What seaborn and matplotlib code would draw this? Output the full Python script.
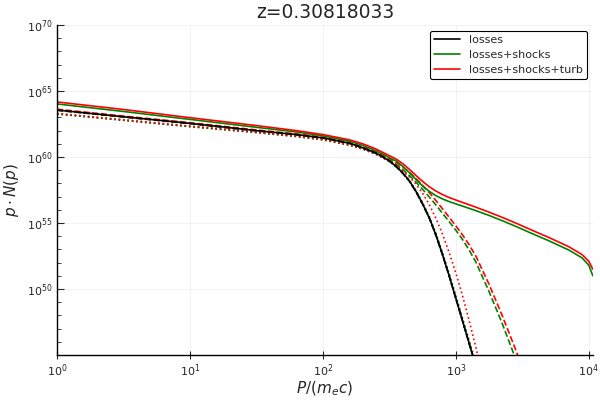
import numpy as np
import pandas as pd
import matplotlib
matplotlib.use("Agg")
import matplotlib.pyplot as plt
import matplotlib.ticker as mticker
import seaborn as sns

# log10(P/(m_e c)) grid
logp = [0, 0.5, 1.0, 1.5, 1.8, 2.0, 2.2, 2.3, 2.4, 2.45, 2.5, 2.55, 2.6, 2.65, 2.7, 2.75, 2.8,
        2.85, 2.9, 2.95, 3.0, 3.05, 3.1, 3.15, 3.25, 3.35, 3.45, 3.55, 3.7, 3.85, 3.95, 4.0, 4.03]

# log10(p*N(p)) (curves stop once they leave the axes)
red_solid = [64.17, 63.6, 62.98, 62.38, 62.0, 61.7, 61.3, 61.0, 60.6, 60.35, 60.1, 59.85, 59.5,
             59.07, 58.6, 58.15, 57.75, 57.42, 57.15, 56.93, 56.74, 56.56, 56.38, 56.2, 55.82,
             55.42, 55.0, 54.55, 53.9, 53.2, 52.6, 52.1, 51.5]
green_solid = [64.02, 63.45, 62.85, 62.25, 61.9, 61.6, 61.2, 60.88, 60.47, 60.22, 59.95, 59.7, 59.3,
               58.82, 58.3, 57.8, 57.4, 57.07, 56.82, 56.62, 56.45, 56.28, 56.11, 55.94, 55.57,
               55.17, 54.75, 54.3, 53.65, 52.95, 52.35, 51.8, 51.0]
black_solid = [63.56, 63.05, 62.55, 62.0, 61.7, 61.45, 61.05, 60.7, 60.3, 60.02, 59.7, 59.3, 58.8,
               58.2, 57.4, 56.45, 55.4, 54.1, 52.6, 51.0, 49.3, 47.6, 45.9, 44.2, 40.8]
black_dashed = [63.54, 63.03, 62.53, 61.98, 61.68, 61.43, 61.03, 60.68, 60.28, 60.0, 59.68, 59.28, 58.78,
                58.18, 57.38, 56.43, 55.38, 54.08, 52.58, 50.98, 49.28, 47.58, 45.88, 44.18, 40.8]
green_dashed = [63.56, 63.05, 62.55, 62.0, 61.7, 61.45, 61.05, 60.7, 60.3, 60.05, 59.8, 59.45, 59.05,
                58.6, 58.1, 57.55, 56.97, 56.37, 55.73, 55.1, 54.45, 53.75, 52.95, 52.05, 49.8,
                47.35, 44.7, 42.0]
red_dashed = [63.62, 63.1, 62.6, 62.05, 61.75, 61.5, 61.1, 60.75, 60.37, 60.15, 59.9, 59.6, 59.25,
              58.85, 58.37, 57.85, 57.3, 56.7, 56.07, 55.43, 54.78, 54.1, 53.35, 52.5, 50.35,
              47.95, 45.4, 42.7]
black_dotted = [63.26, 62.78, 62.3, 61.85, 61.55, 61.3, 60.9, 60.6, 60.2, 59.95, 59.66, 59.27, 58.77,
                58.17, 57.37, 56.42, 55.37, 54.07, 52.57, 50.97, 49.27, 47.57, 45.87, 44.17, 40.8]
green_dotted = [63.28, 62.8, 62.32, 61.87, 61.57, 61.32, 60.92, 60.62, 60.22, 59.97, 59.69, 59.31, 58.83,
                58.24, 57.46, 56.53, 55.5, 54.22, 52.74, 51.16, 49.48, 47.8, 46.1, 44.4, 41.0]
red_dotted = [63.3, 62.82, 62.34, 61.89, 61.59, 61.34, 60.94, 60.64, 60.24, 59.98, 59.72, 59.37, 58.97,
              58.5, 57.95, 57.25, 56.4, 55.35, 54.15, 52.75, 51.2, 49.5, 47.6, 45.6, 41.4]

title = "z=0.30818033"
legend_labels = ["losses", "losses+shocks", "losses+shocks+turb"]

sns.set_style("ticks")
plt.rcParams['font.family'] = ['DejaVu Sans']

fig, ax = plt.subplots(figsize=(6, 4), dpi=100)
fig.subplots_adjust(left=0.095, right=0.988, bottom=0.1125, top=0.9375)
ax.set_xscale('log')
ax.set_yscale('log')


def draw(vals, color, ls, label=None):
    n = len(vals)
    x = 10 ** np.array(logp[:n])
    y = 10 ** np.array(vals)
    sns.lineplot(x=x, y=y, color=color, linestyle=ls, lw=1.2, label=label,
                 ax=ax, sort=False, estimator=None)


# background runs first, solid ones on top
draw(black_dashed, 'black', '--')
draw(green_dashed, 'green', '--')
draw(red_dashed, 'red', '--')
draw(black_dotted, 'black', ':')
draw(green_dotted, 'green', ':')
draw(red_dotted, 'red', ':')
draw(black_solid, 'black', '-', legend_labels[0])
draw(green_solid, 'green', '-', legend_labels[1])
draw(red_solid, 'red', '-', legend_labels[2])

ax.set_xlim(1, 10 ** 4.03)
ax.set_ylim(1e45, 1e70)

ax.set_xticks([1, 10, 100, 1e3, 1e4])
ax.xaxis.set_minor_locator(mticker.NullLocator())
ax.set_yticks([1e50, 1e55, 1e60, 1e65, 1e70])
ax.set_yticks([10.0 ** k for k in range(45, 70) if k % 5 != 0], minor=True)
ax.xaxis.set_major_formatter(mticker.LogFormatterSciNotation())
ax.yaxis.set_major_formatter(mticker.LogFormatterSciNotation())
ax.yaxis.set_minor_formatter(mticker.NullFormatter())

ax.tick_params(axis='x', which='major', direction='inout', length=6, width=0.8, labelsize=8, pad=2)
ax.tick_params(axis='y', which='major', direction='in', length=5, width=0.8, labelsize=8)
ax.tick_params(axis='y', which='minor', direction='in', length=3, width=0.6)

ax.grid(True, which='major', color='black', alpha=0.06, lw=0.6)
sns.despine(ax=ax)
for s in ['left', 'bottom']:
    ax.spines[s].set_linewidth(1.0)
    ax.spines[s].set_color('black')

ax.set_title(title, fontsize=13.5, pad=5)
ax.set_xlabel(r"$P/(m_e c)$", fontsize=11, labelpad=1)
ax.set_ylabel(r"$p \cdot N(p)$", fontsize=11, labelpad=4)

leg = ax.legend(loc='upper right', fontsize=8, frameon=True, fancybox=True,
                framealpha=1, edgecolor='black', handlelength=2.3,
                borderaxespad=0.5, labelspacing=0.45)
leg.get_frame().set_linewidth(0.8)

fig.savefig("out.png", dpi=100)
